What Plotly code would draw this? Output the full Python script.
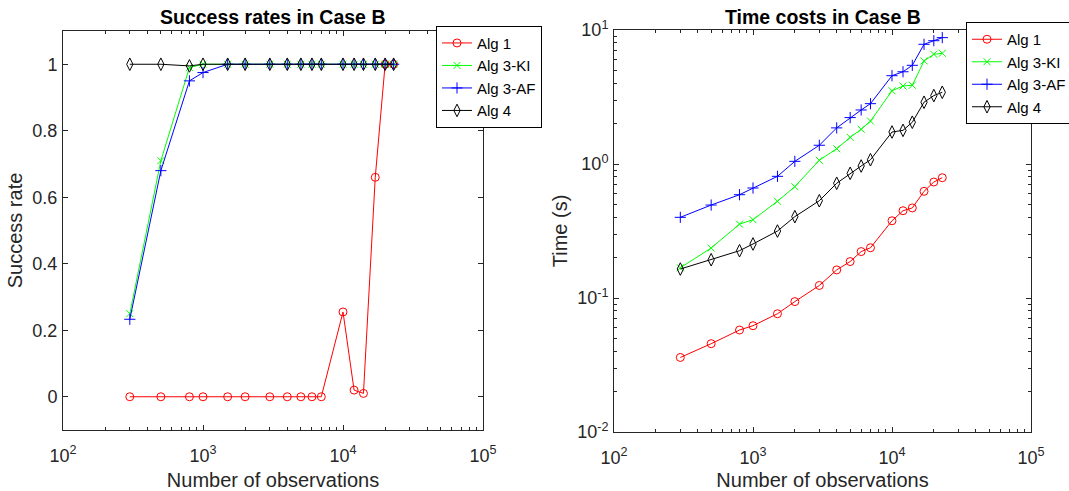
import plotly.graph_objects as go

# Problem sizes (number of observations)
n_obs = [300, 500, 800, 1000, 1500, 2000, 3000, 4000, 5000, 6000, 7000,
         10000, 12000, 14000, 17000, 20000, 23000]

# Success rates
succ_alg1 = [0, 0, 0, 0, 0, 0, 0, 0, 0, 0, 0, 0.255, 0.02, 0.01, 0.66, 1, 1]
succ_alg3ki = [0.25, 0.71, 0.99, 1, 1, 1, 1, 1, 1, 1, 1, 1, 1, 1, 1, 1, 1]
succ_alg3af = [0.233, 0.68, 0.95, 0.975, 1, 1, 1, 1, 1, 1, 1, 1, 1, 1, 1, 1, 1]
succ_alg4 = [1, 1, 0.995, 1, 1, 1, 1, 1, 1, 1, 1, 1, 1, 1, 1, 1, 1]

# Time costs (seconds)
time_alg1 = [0.036, 0.0456, 0.0577, 0.0621, 0.0763, 0.094, 0.124, 0.162, 0.187,
             0.222, 0.237, 0.377, 0.448, 0.47, 0.625, 0.734, 0.79]
time_alg3ki = [0.168, 0.236, 0.356, 0.384, 0.527, 0.678, 1.066, 1.30, 1.58,
               1.815, 2.09, 3.52, 3.82, 3.87, 5.88, 6.59, 6.70]
time_alg3af = [0.40, 0.494, 0.59, 0.662, 0.809, 1.047, 1.38, 1.86, 2.22,
               2.53, 2.82, 4.56, 4.88, 5.45, 7.82, 8.32, 8.77]
time_alg4 = [0.1645, 0.193, 0.2254, 0.253, 0.316, 0.4045, 0.532, 0.718, 0.852,
             0.966, 1.076, 1.733, 1.783, 2.05, 2.89, 3.24, 3.43]

names = ["Alg 1", "Alg 3-KI", "Alg 3-AF", "Alg 4"]
colors = ["#ff0000", "#00ff00", "#0000ff", "#000000"]
symbols = ["circle-open", "x-thin-open", "cross-thin-open", "diamond-tall-open"]
sizes = [8, 7, 8, 9]

x_ticks = [100, 1000, 10000, 100000]
x_ticktext = ["10<sup>2</sup>", "10<sup>3</sup>", "10<sup>4</sup>", "10<sup>5</sup>"]
y_ticks_rate = [0, 0.2, 0.4, 0.6, 0.8, 1]
y_ticktext_rate = ["0", "0.2", "0.4", "0.6", "0.8", "1"]
y_ticks_time = [0.01, 0.1, 1, 10]
y_ticktext_time = ["10<sup>-2</sup>", "10<sup>-1</sup>", "10<sup>0</sup>", "10<sup>1</sup>"]

W, H = 1069, 491
FONT = "Liberation Sans, Arial, Helvetica, sans-serif"
AXC = "#262626"


def minor_log(lo, hi):
    vals = []
    d = 10.0 ** lo
    while d < 10.0 ** hi:
        vals += [d * k for k in range(2, 10)]
        d *= 10
    return vals


fig = go.Figure()

for name, c, s, sz, ys in zip(names, colors, symbols, sizes,
                              [succ_alg1, succ_alg3ki, succ_alg3af, succ_alg4]):
    fig.add_trace(go.Scatter(
        x=n_obs, y=ys, name=name, mode="lines+markers",
        line=dict(color=c, width=1),
        marker=dict(symbol=s, size=sz, color=c, line=dict(color=c, width=1)),
        xaxis="x", yaxis="y", legend="legend"))

for name, c, s, sz, ys in zip(names, colors, symbols, sizes,
                              [time_alg1, time_alg3ki, time_alg3af, time_alg4]):
    fig.add_trace(go.Scatter(
        x=n_obs, y=ys, name=name, mode="lines+markers",
        line=dict(color=c, width=1),
        marker=dict(symbol=s, size=sz, color=c, line=dict(color=c, width=1)),
        xaxis="x2", yaxis="y2", legend="legend2"))

tick_font = dict(family=FONT, size=18, color=AXC)
label_font = dict(family=FONT, size=20, color=AXC)
title_font = dict(family=FONT, size=19.5, color="#000000")
legend_font = dict(family=FONT, size=15, color="#000000")

common_axis = dict(
    showline=True, linecolor=AXC, linewidth=1, mirror="allticks",
    ticks="inside", ticklen=5, tickwidth=1, tickcolor=AXC,
    showgrid=False, zeroline=False, tickfont=tick_font, automargin=False,
)

x_minor = dict(ticks="inside", ticklen=3, tickwidth=1, tickcolor=AXC,
               tickvals=minor_log(2, 5), showgrid=False)

fig.update_layout(
    width=W, height=H,
    margin=dict(l=0, r=0, t=0, b=0, autoexpand=False),
    paper_bgcolor="white", plot_bgcolor="white",
    showlegend=True,
    xaxis=dict(common_axis, type="log", range=[2, 5],
               domain=[63 / W, 483 / W], anchor="y",
               tickvals=x_ticks, ticktext=x_ticktext, minor=x_minor,
               ticklabelstandoff=9,
               title=dict(text="Number of observations", font=label_font, standoff=9)),
    yaxis=dict(common_axis, range=[-0.1, 1.1],
               domain=[61 / H, 460 / H], anchor="x",
               tickvals=y_ticks_rate, ticktext=y_ticktext_rate,
               ticklabelstandoff=1,
               title=dict(text="Success rate", font=label_font, standoff=4)),
    xaxis2=dict(common_axis, type="log", range=[2, 5],
                domain=[614 / W, 1031 / W], anchor="y2",
                tickvals=x_ticks, ticktext=x_ticktext, minor=x_minor,
                ticklabelstandoff=9,
                title=dict(text="Number of observations", font=label_font, standoff=9)),
    yaxis2=dict(common_axis, type="log", range=[-2, 1],
                domain=[59 / H, 461 / H], anchor="x2",
                tickvals=y_ticks_time, ticktext=y_ticktext_time,
                minor=dict(ticks="inside", ticklen=3, tickwidth=1, tickcolor=AXC,
                           tickvals=minor_log(-2, 1), showgrid=False),
                ticklabelstandoff=1,
                title=dict(text="Time (s)", font=label_font, standoff=4)),
    legend=dict(x=436 / W, y=1 - 25.7 / H, xanchor="left", yanchor="top",
                bgcolor="white", bordercolor="#000000", borderwidth=1,
                font=legend_font, tracegroupgap=0),
    legend2=dict(x=966 / W, y=1 - 22 / H, xanchor="left", yanchor="top",
                 bgcolor="white", bordercolor="#000000", borderwidth=1,
                 font=legend_font, tracegroupgap=0),
    annotations=[
        dict(text="<b>Success rates in Case B</b>", x=(63 + 483) / 2 / W, y=1 - 16.5 / H,
             xref="paper", yref="paper", xanchor="center", yanchor="middle",
             showarrow=False, font=title_font),
        dict(text="<b>Time costs in Case B</b>", x=(614 + 1031) / 2 / W, y=1 - 16.5 / H,
             xref="paper", yref="paper", xanchor="center", yanchor="middle",
             showarrow=False, font=title_font),
    ],
)

fig.write_html("out.html")
